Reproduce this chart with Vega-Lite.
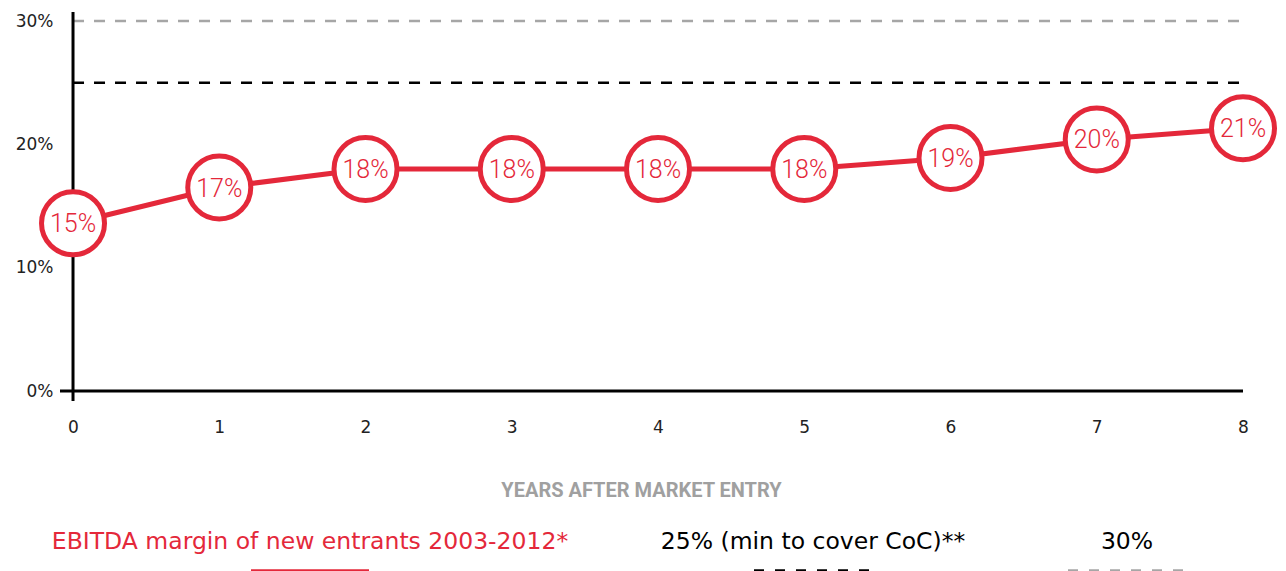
{
  "$schema": "https://vega.github.io/schema/vega-lite/v6.json",
  "padding": {"left": 5, "top": 10, "right": 5, "bottom": 0},
  "bounds": "flush",
  "spacing": 127,
  "background": "white",
  "config": {"view": {"stroke": null}, "font": "DejaVu Sans"},
  "datasets": {
    "margin": [
      {"year": 0, "value": 13.6, "label": "15%"},
      {"year": 1, "value": 16.5, "label": "17%"},
      {"year": 2, "value": 18.0, "label": "18%"},
      {"year": 3, "value": 18.0, "label": "18%"},
      {"year": 4, "value": 18.0, "label": "18%"},
      {"year": 5, "value": 18.0, "label": "18%"},
      {"year": 6, "value": 18.9, "label": "19%"},
      {"year": 7, "value": 20.4, "label": "20%"},
      {"year": 8, "value": 21.3, "label": "21%"}
    ],
    "thresholds": [
      {"name": "25% (min to cover CoC)**", "value": 25},
      {"name": "30%", "value": 30}
    ],
    "legend": [
      {"name": "EBITDA margin of new entrants 2003-2012*"},
      {"name": "25% (min to cover CoC)**"},
      {"name": "30%"}
    ]
  },
  "vconcat": [
    {
      "width": 1183,
      "height": 389,
      "layer": [
        {
          "data": {"name": "thresholds"},
          "mark": {"type": "rule", "strokeWidth": 2.5, "strokeDash": [11, 10]},
          "encoding": {
            "y": {"field": "value", "type": "quantitative"},
            "x": {"datum": 0, "type": "quantitative"},
            "x2": {"datum": 8},
            "color": {
              "field": "name", "type": "nominal", "legend": null,
              "scale": {
                "domain": ["EBITDA margin of new entrants 2003-2012*", "25% (min to cover CoC)**", "30%"],
                "range": ["#e4283a", "#000000", "#a6a6a6"]
              }
            }
          }
        },
        {
          "data": {"values": [{}]},
          "mark": {"type": "rule", "color": "#000000", "strokeWidth": 3},
          "encoding": {"x": {"datum": 0, "type": "quantitative"}}
        },
        {
          "data": {"values": [{}]},
          "mark": {"type": "rule", "color": "#000000", "strokeWidth": 3},
          "encoding": {"y": {"datum": 0, "type": "quantitative"}}
        },
        {
          "data": {"name": "margin"},
          "mark": {"type": "line", "color": "#e4283a", "strokeWidth": 5},
          "encoding": {
            "x": {
              "field": "year", "type": "quantitative",
              "scale": {"domain": [-0.089, 8], "nice": false, "zero": false},
              "axis": {
                "values": [0, 1, 2, 3, 4, 5, 6, 7, 8], "format": "d",
                "domain": false, "ticks": false, "grid": false,
                "labelFlush": false, "labelOverlap": false,
                "labelPadding": 18, "labelFontSize": 17, "labelColor": "#222222",
                "labelFont": "DejaVu Sans",
                "title": "YEARS AFTER MARKET ENTRY",
                "titleFontSize": 20, "titleFontWeight": "bold", "titleColor": "#a0a0a0",
                "titleFont": "Roboto", "titlePadding": 45, "titleX": 581
              }
            },
            "y": {
              "field": "value", "type": "quantitative",
              "scale": {"domain": [-0.81, 30.73], "nice": false, "zero": false},
              "axis": {
                "values": [0, 10, 20, 30],
                "labelExpr": "datum.value + '%'",
                "domain": false, "ticks": false, "grid": false,
                "labelPadding": 7, "labelFontSize": 17, "labelColor": "#222222",
                "labelFont": "DejaVu Sans",
                "minExtent": 55, "maxExtent": 55,
                "title": null
              }
            }
          }
        },
        {
          "data": {"name": "margin"},
          "mark": {"type": "point", "shape": "circle", "size": 3970, "fill": "white", "fillOpacity": 1, "opacity": 1, "stroke": "#e4283a", "strokeWidth": 5},
          "encoding": {
            "x": {"field": "year", "type": "quantitative"},
            "y": {"field": "value", "type": "quantitative"}
          }
        },
        {
          "data": {"name": "margin"},
          "mark": {"type": "text", "color": "#e4283a", "fontSize": 25, "font": "Roboto", "fontWeight": 300, "baseline": "middle", "align": "center", "dy": 1},
          "encoding": {
            "x": {"field": "year", "type": "quantitative"},
            "y": {"field": "value", "type": "quantitative"},
            "text": {"field": "label"}
          }
        }
      ]
    },
    {
      "hconcat": [
        {
          "width": 500, "height": 57,
          "data": {"name": "legend"},
          "transform": [{"filter": "datum.name == 'EBITDA margin of new entrants 2003-2012*'"}],
          "layer": [
            {
              "mark": {"type": "text", "fontSize": 23.5, "font": "DejaVu Sans", "baseline": "middle", "align": "center"},
              "encoding": {
                "x": {"field": "name", "type": "nominal", "axis": null},
                "y": {"datum": "label", "type": "nominal", "axis": null, "scale": {"domain": ["label", "line"]}},
                "text": {"field": "name"},
                "color": {"value": "#e4283a"}
              }
            },
            {
              "mark": {"type": "rule", "strokeWidth": 3, "xOffset": -59, "x2Offset": 59, "color": "#e4283a"},
              "encoding": {
                "x": {"field": "name", "type": "nominal", "axis": null},
                "x2": {"field": "name"},
                "y": {"datum": "line", "type": "nominal", "axis": null, "scale": {"domain": ["label", "line"]}}
              }
            }
          ]
        },
        {
          "width": 506, "height": 57,
          "data": {"name": "legend"},
          "transform": [{"filter": "datum.name == '25% (min to cover CoC)**'"}],
          "layer": [
            {
              "mark": {"type": "text", "fontSize": 23.5, "font": "DejaVu Sans", "baseline": "middle", "align": "center"},
              "encoding": {
                "x": {"field": "name", "type": "nominal", "axis": null},
                "y": {"datum": "label", "type": "nominal", "axis": null, "scale": {"domain": ["label", "line"]}},
                "text": {"field": "name"},
                "color": {"value": "#000000"}
              }
            },
            {
              "mark": {"type": "rule", "strokeWidth": 3, "xOffset": -59, "x2Offset": 59, "color": "#000000", "strokeDash": [10, 11]},
              "encoding": {
                "x": {"field": "name", "type": "nominal", "axis": null},
                "x2": {"field": "name"},
                "y": {"datum": "line", "type": "nominal", "axis": null, "scale": {"domain": ["label", "line"]}}
              }
            }
          ]
        },
        {
          "width": 122, "height": 57,
          "data": {"name": "legend"},
          "transform": [{"filter": "datum.name == '30%'"}],
          "layer": [
            {
              "mark": {"type": "text", "fontSize": 23.5, "font": "DejaVu Sans", "baseline": "middle", "align": "center"},
              "encoding": {
                "x": {"field": "name", "type": "nominal", "axis": null},
                "y": {"datum": "label", "type": "nominal", "axis": null, "scale": {"domain": ["label", "line"]}},
                "text": {"field": "name"},
                "color": {"value": "#000000"}
              }
            },
            {
              "mark": {"type": "rule", "strokeWidth": 3, "xOffset": -59, "x2Offset": 59, "color": "#a6a6a6", "strokeDash": [10, 11]},
              "encoding": {
                "x": {"field": "name", "type": "nominal", "axis": null},
                "x2": {"field": "name"},
                "y": {"datum": "line", "type": "nominal", "axis": null, "scale": {"domain": ["label", "line"]}}
              }
            }
          ]
        }
      ],
      "spacing": 0,
      "bounds": "flush"
    }
  ]
}
